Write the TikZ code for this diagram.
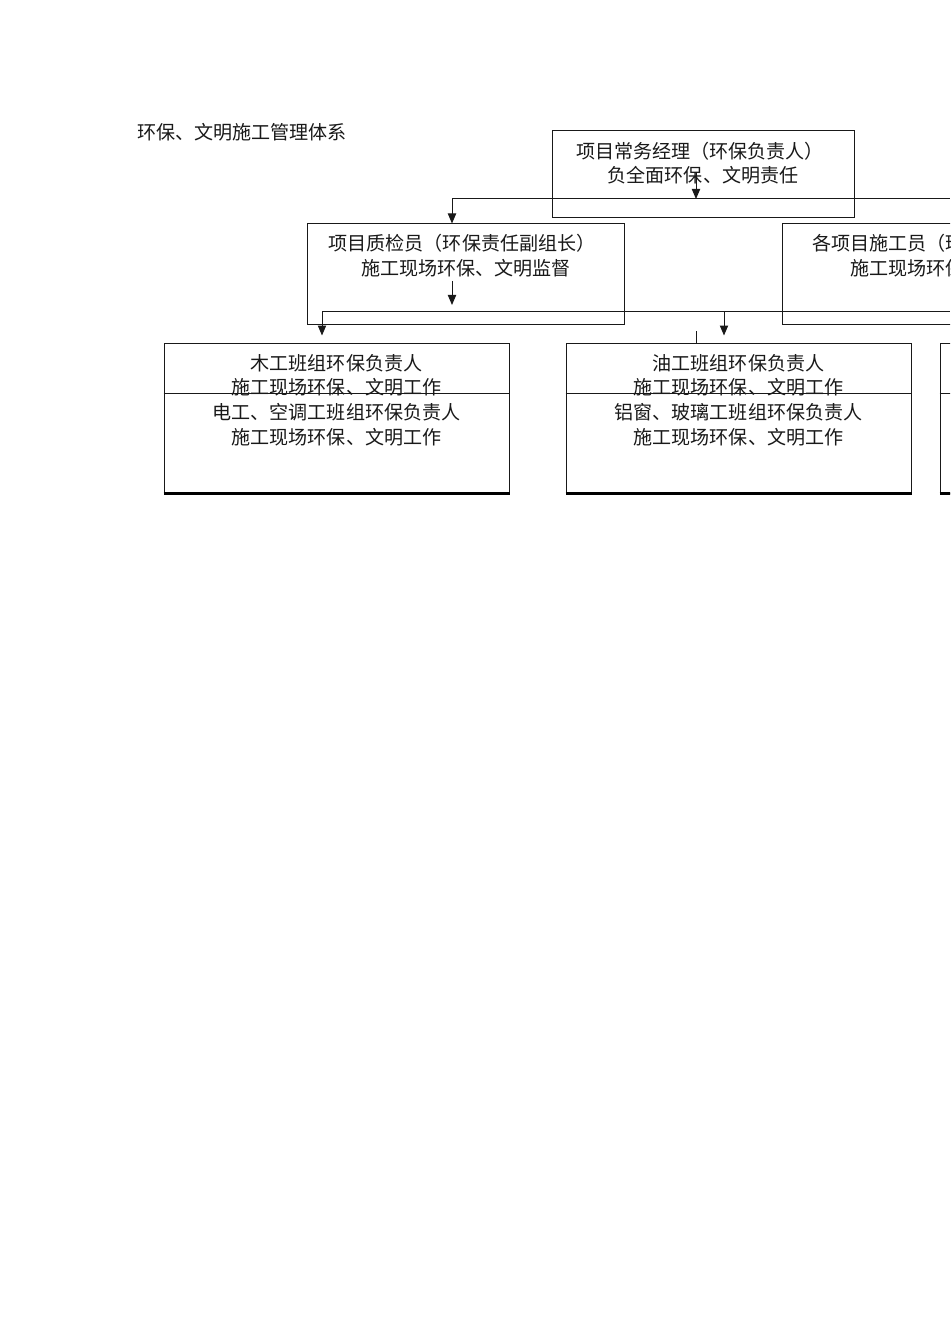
\documentclass[tikz,border=0pt]{standalone}
\usepackage{fontspec}
\newfontfamily\cjk{Noto Sans CJK SC}
\usetikzlibrary{arrows.meta}
\begin{document}
\begin{tikzpicture}[x=0.75pt,y=-0.75pt,
  box/.style={draw=black!90, line width=0.75pt, inner sep=0pt, minimum width=#1},
  midbox/.style={box=237.75pt, minimum height=75pt},
  botbox/.style={box=258.75pt, minimum height=112.5pt},
  txt/.style={font=\cjk\fontsize{14.3pt}{16pt}\selectfont, inner sep=0pt, text=black!90},
  ln/.style={line width=0.75pt, draw=black!90},
  arr/.style={ln, -{Triangle[length=7.5pt,width=6.2pt]}},
  thickln/.style={line width=1.8pt, draw=black}]
\useasboundingbox (0,0) rectangle (950,1344);
\clip (0,0) rectangle (950,1344);
\fill[white] (0,0) rectangle (950,1344);

% title
\node[txt, anchor=west] (title) at (137,132) {环保、文明施工管理体系};

% boxes
\node[box=226.5pt, minimum height=65.25pt] (top) at (703,174.5) {};
\node[midbox] (qc) at (465.5,274) {};
\node[midbox] (sg) at (940.5,274) {};
\node[botbox] (wood) at (336.5,418) {};
\node[botbox] (oil) at (738.5,418) {};
\node[botbox] (third) at (1112.5,418) {};

% dividers and thick bottoms
\foreach \b in {wood,oil,third}{
  \draw[ln] ([yshift=-38.25pt]\b.north west) -- ([yshift=-38.25pt]\b.north east);
  \draw[thickln] (\b.south west) -- (\b.south east);
}

% texts
\node[txt] (topL1) at (700,151) {项目常务经理（环保负责人）};
\node[txt] (topL2) at (703,175) {负全面环保、文明责任};
\node[txt] (qcL1) at (462,243) {项目质检员（环保责任副组长）};
\node[txt] (qcL2) at (466,268) {施工现场环保、文明监督};
\node[txt, anchor=west] (sgL1) at (812,243) {各项目施工员（环保责任组员）};
\node[txt, anchor=west] (sgL2) at (850,268) {施工现场环保、文明管理};

\node[txt] (woodL1) at (336.5,363) {木工班组环保负责人};
\node[txt] (woodL2) at (336.5,387) {施工现场环保、文明工作};
\node[txt] (woodL3) at (336.5,412) {电工、空调工班组环保负责人};
\node[txt] (woodL4) at (336.5,437) {施工现场环保、文明工作};

\node[txt] (oilL1) at (738.5,363) {油工班组环保负责人};
\node[txt] (oilL2) at (738.5,387) {施工现场环保、文明工作};
\node[txt] (oilL3) at (738.5,412) {铝窗、玻璃工班组环保负责人};
\node[txt] (oilL4) at (738.5,437) {施工现场环保、文明工作};

% connectors
\coordinate (tA) at (696,172);
\coordinate (j1) at (696,199);
\coordinate (j1L) at (452,199);
\coordinate (j1R) at (950,199);
\draw[arr] (tA) -- (j1);
\draw[ln] (j1L) -- (j1R);
\draw[arr] (j1L) -- (j1L |- qc.north);

\coordinate (qA) at (452,281);
\coordinate (qB) at (452,305);
\draw[arr] (qA) -- (qB);

\coordinate (j2L) at (322,312);
\coordinate (j2M) at (724,312);
\coordinate (j2R) at (950,312);
\draw[ln] (j2L) -- (j2R);
\draw[arr, shorten >=5.25pt] (j2L) -- (j2L |- wood.north);
\draw[arr, shorten >=5.25pt] (j2M) -- (j2M |- oil.north);
\coordinate (tk) at (696,331);
\draw[ln] (tk) -- (tk |- oil.north);
\end{tikzpicture}
\end{document}
